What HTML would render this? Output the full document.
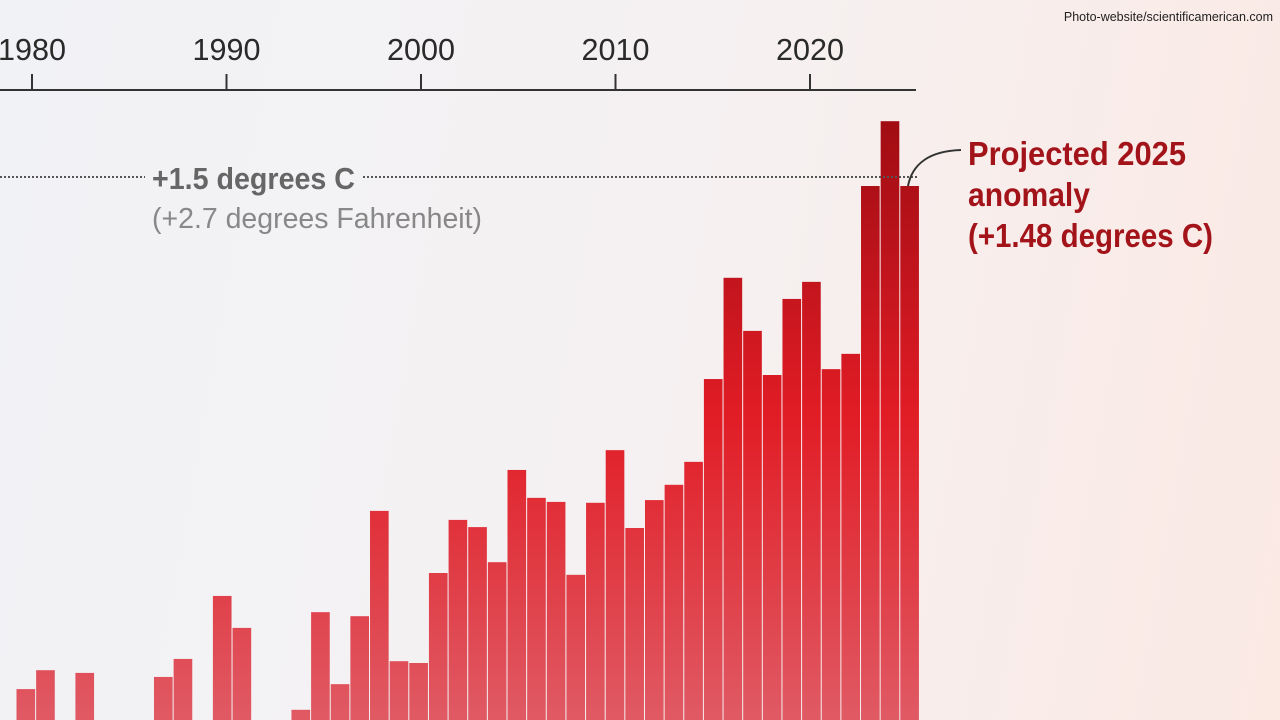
<!DOCTYPE html>
<html><head><meta charset="utf-8"><style>
html,body{margin:0;padding:0;width:1280px;height:720px;overflow:hidden}
body{background:linear-gradient(100deg,#f1f2f6 0%,#f5f1f2 50%,#fbe9e4 100%)}
svg{display:block}
</style></head><body>
<svg width="1280" height="720" viewBox="0 0 1280 720" xmlns="http://www.w3.org/2000/svg">
<defs>
<linearGradient id="barGrad" gradientUnits="userSpaceOnUse" x1="0" y1="110" x2="0" y2="720">
<stop offset="0" stop-color="#9e0c12"/>
<stop offset="0.2" stop-color="#b8121a"/>
<stop offset="0.5" stop-color="#e11c25"/>
<stop offset="1" stop-color="#e05a64"/>
</linearGradient>
</defs>
<text x="1273" y="21" text-anchor="end" font-family="Liberation Sans, sans-serif" font-size="12.5" fill="#222">Photo-website/scientificamerican.com</text>
<g id="axis"></g>
<g id="bars"></g>
<line x1="0" y1="177" x2="145" y2="177" stroke="#555" stroke-width="2" stroke-dasharray="2,2"/>
<line x1="363" y1="177" x2="918" y2="177" stroke="#555" stroke-width="2" stroke-dasharray="2,2"/>
<text x="152" y="189" font-family="Liberation Sans Narrow, Liberation Sans, sans-serif" font-weight="bold" font-size="31" fill="#666" textLength="203" lengthAdjust="spacingAndGlyphs">+1.5 degrees C</text>
<text x="152" y="228" font-family="Liberation Sans Narrow, Liberation Sans, sans-serif" font-size="29" fill="#888" textLength="330" lengthAdjust="spacingAndGlyphs">(+2.7 degrees Fahrenheit)</text>
<path d="M908 186 C 912 165, 928 151, 961 150" fill="none" stroke="#333" stroke-width="2"/>
<g font-family="Liberation Sans Narrow, Liberation Sans, sans-serif" font-weight="bold" font-size="33" fill="#a3141a">
<text x="968" y="165" textLength="218" lengthAdjust="spacingAndGlyphs">Projected 2025</text>
<text x="968" y="206" textLength="122" lengthAdjust="spacingAndGlyphs">anomaly</text>
<text x="968" y="247" textLength="245" lengthAdjust="spacingAndGlyphs">(+1.48 degrees C)</text>
</g>
</svg>
<script>
const years = [];
for (let y = 1980; y <= 2025; y++) years.push(y);
const anomalies = [0.362,0.404,0.25,0.398,0.25,0.25,0.25,0.389,0.429,0.25,0.569,0.498,0.25,0.25,0.316,0.533,0.373,0.524,0.758,0.424,0.420,0.620,0.738,0.722,0.644,0.849,0.787,0.778,0.616,0.776,0.893,0.720,0.782,0.816,0.867,1.051,1.276,1.158,1.060,1.229,1.267,1.073,1.107,1.480,1.624,1.480];
const tickYears = [1980,1990,2000,2010,2020];
const tickLabels = ["1980","1990","2000","2010","2020"];
const NS = "http://www.w3.org/2000/svg";
const step = 19.64;
function xLeft(year){ return 16 + (year - 1980) * step; }
function xTick(year){ return 32 + (year - 1980) * 19.45; }
function yScale(v){ return 177 + (1.5 - v) * 450; }
const barsG = document.getElementById('bars');
years.forEach((yr, i) => {
  const y = yScale(anomalies[i]);
  if (y >= 720) return;
  const r = document.createElementNS(NS, 'rect');
  
  
  r.setAttribute('x', xLeft(yr) + 0.5);
  r.setAttribute('y', y);
  r.setAttribute('width', step - 1);
  r.setAttribute('height', 720 - y);
  r.setAttribute('fill', 'url(#barGrad)');
  barsG.appendChild(r);
});
const axisG = document.getElementById('axis');
const base = document.createElementNS(NS, 'line');


base.setAttribute('x1', 0); base.setAttribute('x2', 916);
base.setAttribute('y1', 90); base.setAttribute('y2', 90);
base.setAttribute('stroke', '#333'); base.setAttribute('stroke-width', 2);
axisG.appendChild(base);
tickYears.forEach((yr, i) => {
  const x = xTick(yr);
  const t = document.createElementNS(NS, 'line');
  
  
  t.setAttribute('x1', x); t.setAttribute('x2', x);
  t.setAttribute('y1', 74); t.setAttribute('y2', 90);
  t.setAttribute('stroke', '#333'); t.setAttribute('stroke-width', 2);
  axisG.appendChild(t);
  const lb = document.createElementNS(NS, 'text');
  
  
  lb.setAttribute('x', x); lb.setAttribute('y', 60);
  lb.setAttribute('text-anchor', 'middle');
  lb.setAttribute('font-family', 'Liberation Sans Narrow, Liberation Sans, sans-serif');
  lb.setAttribute('font-size', '31');
  lb.setAttribute('fill', '#2a2a2a');
  lb.setAttribute('textLength', '68');
  lb.setAttribute('lengthAdjust', 'spacingAndGlyphs');
  lb.textContent = tickLabels[i];
  axisG.appendChild(lb);
});
</script>
</body></html>
